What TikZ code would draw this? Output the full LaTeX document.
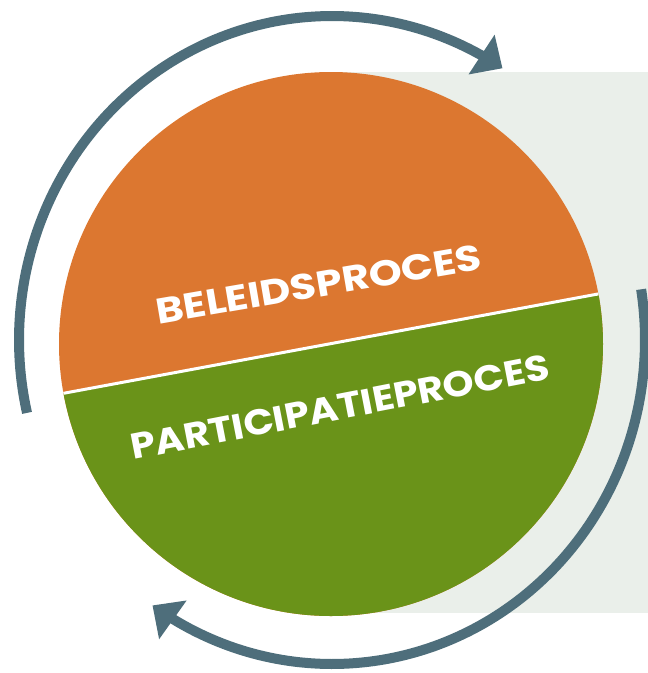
\documentclass[tikz,border=0pt]{standalone}
\usepackage{graphicx}
\usepackage{fontspec}
\setmainfont{Poppins}
\usetikzlibrary{arrows.meta}
\definecolor{arcblue}{HTML}{4E6E7B}
\definecolor{orng}{HTML}{DC7730}
\definecolor{grn}{HTML}{6A9319}
\definecolor{bgpale}{HTML}{EAEFEA}
\begin{document}
\begin{tikzpicture}[x=1pt,y=-1pt,
  cyc/.style={draw=arcblue, line width=10pt, -{Triangle[length=25pt,width=46pt]}},
  lbl/.style={text=white, font=\fontsize{36}{38}\selectfont\bfseries, inner sep=0pt}]
\useasboundingbox (0,0) rectangle (648,673);
\fill[bgpale] (331,72) rectangle (648,613);
\begin{scope}
  \clip (331,344) circle[radius=272pt];
  \fill[orng] (0,0) rectangle (648,673);
  \fill[grn] (0,405.1) -- (648,284.7) -- (648,673) -- (0,673) -- cycle;
  \draw[white, line width=3pt] (0,405.1) -- (648,284.7);
\end{scope}
\draw[cyc] plot[domain=193:57, samples=120, variable=\t] ({332+313*cos(\t)},{340-324*sin(\t)});
\draw[cyc] plot[domain=9:-125, samples=120, variable=\t] ({332+313*cos(\t)},{340-324*sin(\t)});
\node[lbl, rotate=9.7, anchor=base west] (beleid) at (158,324.5) {\resizebox{330pt}{25.5pt}{BELEIDSPROCES}};
\node[lbl, rotate=11, anchor=base west] (partic) at (133,460) {\resizebox{426pt}{25.5pt}{PARTICIPATIEPROCES}};
\end{tikzpicture}
\end{document}
